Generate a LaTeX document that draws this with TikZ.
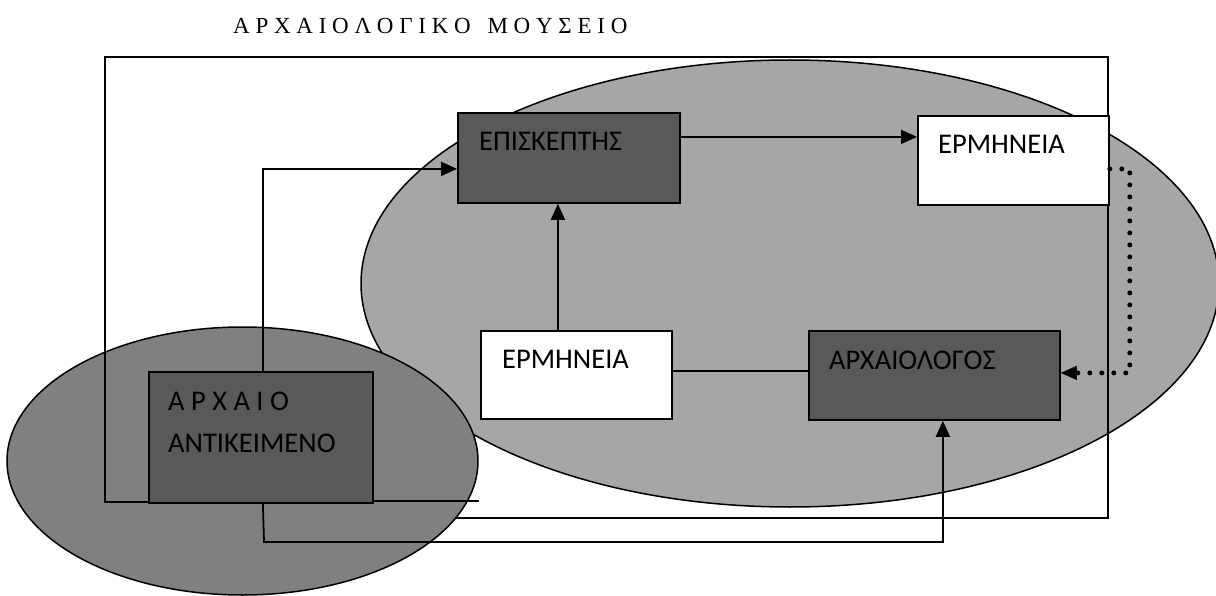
\documentclass[tikz,border=0pt]{standalone}
\usepackage{fontspec}
\setmainfont{Carlito}
\newfontfamily\titlefont{Liberation Serif}
\usetikzlibrary{arrows.meta,calc}
\definecolor{boxdark}{HTML}{595959}
\definecolor{ellbig}{HTML}{A6A6A6}
\definecolor{ellsmall}{HTML}{808080}
\begin{document}
\begin{tikzpicture}[x=1pt,y=-1pt,
  dbox/.style={draw=black, line width=1.8pt, fill=boxdark, anchor=north west, inner sep=0pt},
  wbox/.style={draw=black, line width=1.8pt, fill=white, anchor=north west, inner sep=0pt},
  lbl/.style={anchor=base west, inner sep=0pt, font=\fontsize{28.5}{34}\selectfont},
  ttl/.style={anchor=base west, inner sep=0pt, font=\titlefont\fontsize{23}{28}\selectfont},
  conn/.style={line width=1.8pt},
  arr/.style={line width=1.8pt, -{Triangle[length=16pt,width=14pt]}},
  dotline/.style={line width=5pt, line cap=round, dash pattern=on 0pt off 12pt, -{Triangle[length=16pt,width=14pt,line width=0.5pt]}},
  ell/.style={draw=black, line width=1.5pt}]
\useasboundingbox (0,0) rectangle (1216,596);
\clip (0,0) rectangle (1216,596);
\fill[white] (0,0) rectangle (1216,596);
% title
\node[ttl] (title) at (233,34) {Α Ρ Χ Α Ι Ο Λ Ο Γ Ι Κ Ο\hspace{11pt} Μ Ο Υ Σ Ε Ι Ο};
% ellipses
\draw[ell, fill=ellbig] (790,283.5) ellipse [x radius=429, y radius=223.5];
\draw[ell, fill=ellsmall] (242.5,461) ellipse [x radius=235.5, y radius=134];
% outer frame
\coordinate (fa) at (456,518);
\coordinate (fb) at (1108,518);
\coordinate (fc) at (1108,57);
\coordinate (fd) at (105,57);
\coordinate (fe) at (105,502);
\coordinate (ff) at (148,502);
\draw[conn] (fa) -- (fb) -- (fc) -- (fd) -- (fe) -- (ff);
\coordinate (fg) at (340,501);
\coordinate (fh) at (479,501);
\draw[conn] (fg) -- (fh);
% boxes
\node[dbox, minimum width=222, minimum height=90] (vis) at (457,112) {};
\node[wbox, minimum width=191, minimum height=89] (ermT) at (917,115) {};
\node[wbox, minimum width=191, minimum height=88] (ermM) at (480,330) {};
\node[dbox, minimum width=251, minimum height=89] (arch) at (808,330) {};
\node[dbox, minimum width=224, minimum height=131] (obj) at (148,371) {};
% labels
\node[lbl] (visT) at (479,151) {ΕΠΙΣΚΕΠΤΗΣ};
\node[lbl] (ermTT) at (938,154) {ΕΡΜΗΝΕΙΑ};
\node[lbl] (ermMT) at (502,368) {ΕΡΜΗΝΕΙΑ};
\node[lbl] (archT) at (829,369) {ΑΡΧΑΙΟΛΟΓΟΣ};
\node[lbl] (objT1) at (168,410) {Α Ρ Χ Α Ι Ο};
\node[lbl] (objT2) at (168,452) {ΑΝΤΙΚΕΙΜΕΝΟ};
% connectors
\coordinate (c1) at ([xshift=2pt]obj.north);
\draw[arr] (c1) |- ([yshift=-11pt]vis.west);
\coordinate (c2) at ([yshift=21pt]vis.east);
\draw[arr] (c2) -- (c2 -| ermT.west);
\coordinate (c3) at ([xshift=-18.5pt]ermM.north);
\draw[arr] (c3) -- (c3 |- vis.south);
\coordinate (c4) at ([yshift=4pt]ermM.east);
\draw[conn] (c4) -- (c4 -| arch.west);
\coordinate (c5) at ([xshift=2pt]obj.south);
\coordinate (c6) at (264,542);
\coordinate (c7) at ([xshift=8.5pt]arch.south);
\draw[arr] (c5) -- (c6) -| (c7);
\coordinate (c8) at ([yshift=-8.5pt]ermT.east);
\draw[dotline] (c8) -- ++(20,0) |- ([yshift=2.5pt]arch.east);
\end{tikzpicture}
\end{document}
